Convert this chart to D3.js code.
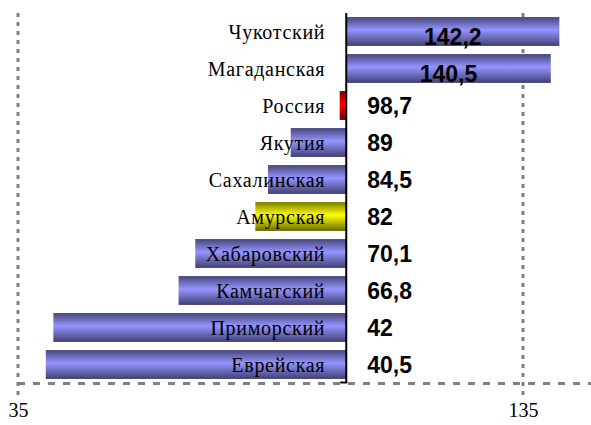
<!DOCTYPE html>
<html><head><meta charset="utf-8">
<script src="https://cdn.jsdelivr.net/npm/d3@7"></script>
<style>html,body{margin:0;padding:0;background:#fff;}svg{display:block;}</style>
</head><body>
<svg id="chart" width="591" height="425"></svg>
<script>
const categories = ["Чукотский","Магаданская","Россия","Якутия","Сахалинская","Амурская","Хабаровский","Камчатский","Приморский","Еврейская"];
const values = [142.2,140.5,98.7,89,84.5,82,70.1,66.8,42,40.5];
const valueLabels = ["142,2","140,5","98,7","89","84,5","82","70,1","66,8","42","40,5"];
const highlight = ["blue","blue","red","blue","blue","yellow","blue","blue","blue","blue"];
const tickValues = [35,135];
const baseValue = 100;

const svg = d3.select("#chart");
const x = d3.scaleLinear().domain([35,135]).range([18,523]);
const y = d3.scaleBand().domain(categories).range([13,383]).paddingInner(0.22).paddingOuter(0.11);

const defs = svg.append("defs");
function grad(id, dark, light, dark2){
  const g = defs.append("linearGradient").attr("id",id).attr("x1",0).attr("y1",0).attr("x2",0).attr("y2",1);
  g.append("stop").attr("offset","0%").attr("stop-color",dark);
  g.append("stop").attr("offset","45%").attr("stop-color",light);
  g.append("stop").attr("offset","100%").attr("stop-color",dark2);
}
grad("g-blue","#45457a","#9595ff","#3f3f72");
grad("g-red","#7a0000","#ff0000","#700000");
grad("g-yellow","#7a7a00","#ffff00","#6a6a00");

// dashed gridlines
svg.append("g").selectAll("line").data(tickValues).join("line")
  .attr("x1",d=>x(d)).attr("x2",d=>x(d)).attr("y1",13).attr("y2",395)
  .attr("stroke","#808080").attr("stroke-width",3).attr("stroke-dasharray","4,5");
svg.append("line").attr("x1",18).attr("x2",591).attr("y1",383.5).attr("y2",383.5)
  .attr("stroke","#808080").attr("stroke-width",3).attr("stroke-dasharray","7,8");

// bars
svg.append("g").selectAll("rect").data(categories).join("rect")
  .attr("x",(d,i)=>Math.min(x(values[i]),x(baseValue)))
  .attr("y",d=>y(d))
  .attr("width",(d,i)=>Math.abs(x(values[i])-x(baseValue)))
  .attr("height",y.bandwidth())
  .attr("fill",(d,i)=>"url(#g-"+highlight[i]+")");

// baseline axis
svg.append("line").attr("x1",x(baseValue)).attr("x2",x(baseValue)).attr("y1",13).attr("y2",383)
  .attr("stroke","#000").attr("stroke-width",2);
svg.append("line").attr("x1",x(baseValue)-6).attr("x2",x(baseValue)+1).attr("y1",382.5).attr("y2",382.5)
  .attr("stroke","#000").attr("stroke-width",2);

// category labels
svg.append("g").selectAll("text").data(categories).join("text")
  .attr("x",x(baseValue)-21)
  .attr("y",d=>y(d)+y.bandwidth()/2)
  .attr("dy","0.35em")
  .attr("text-anchor","end")
  .attr("font-family","'Liberation Serif','Times New Roman',serif")
  .attr("font-size",20)
  .attr("letter-spacing","0.7px")
  .attr("fill","#000")
  .text(d=>d);

// value labels
svg.append("g").selectAll("text").data(categories).join("text")
  .attr("x",(d,i)=>values[i]>baseValue ? (x(baseValue)+x(values[i]))/2 : x(baseValue)+21)
  .attr("y",(d,i)=>y(d)+y.bandwidth()/2 + (values[i]>baseValue?5:0))
  .attr("dy","0.36em")
  .attr("text-anchor",(d,i)=>values[i]>baseValue?"middle":"start")
  .attr("font-family","'Liberation Sans',Arial,sans-serif")
  .attr("font-weight","bold")
  .attr("font-size",23)
  .attr("fill","#000")
  .text((d,i)=>valueLabels[i]);

// bottom axis tick labels
const axis = d3.axisBottom(x).tickValues(tickValues).tickSize(0).tickFormat(d3.format("d"));
const ag = svg.append("g").attr("transform","translate(0,403)").call(axis);
ag.select(".domain").remove();
ag.selectAll("text").attr("font-family","'Liberation Serif','Times New Roman',serif")
  .attr("font-size",20).attr("fill","#000").attr("dy","0.71em").attr("y",0);
</script>
</body></html>
